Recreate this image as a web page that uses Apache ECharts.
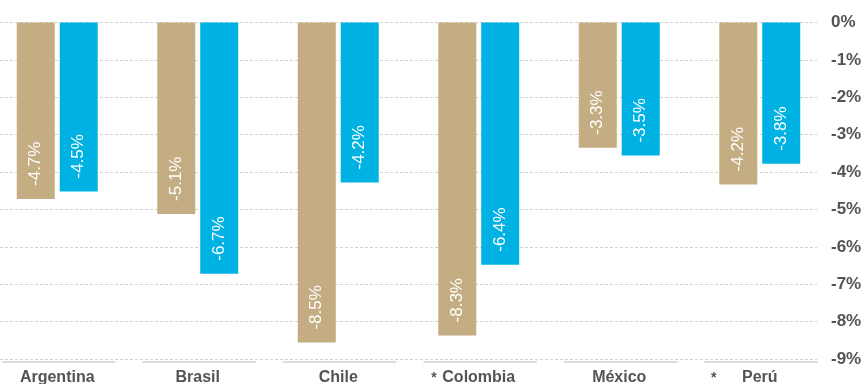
<!DOCTYPE html>
<html>
<head>
<meta charset="utf-8">
<script src="https://cdn.jsdelivr.net/npm/echarts@6/dist/echarts.min.js"></script>
<style>
  html, body { margin: 0; padding: 0; background: #fff; }
  #chart { width: 864px; height: 384px; }
</style>
</head>
<body>
<div id="chart"></div>
<script>
// ---- data ----
const categories = ['Argentina', 'Brasil', 'Chile', 'Colombia', 'México', 'Perú'];
const notes = ['', '', '', '*', '', '*'];
const valuesTan = [-4.72, -5.12, -8.56, -8.37, -3.35, -4.33];
const valuesBlue = [-4.52, -6.72, -4.28, -6.48, -3.56, -3.78];
const labelsTan = ['-4.7%', '-5.1%', '-8.5%', '-8.3%', '-3.3%', '-4.2%'];
const labelsBlue = ['-4.5%', '-6.7%', '-4.2%', '-6.4%', '-3.5%', '-3.8%'];
const yMin = -9, yMax = 0, yStep = 1;

// ---- style ----
const TAN = '#C4AD83';
const BLUE = '#00B2E3';
const TXT = '#535456';
const FONT = '"Liberation Sans", Arial, sans-serif';

const chart = echarts.init(document.getElementById('chart'), null, { renderer: 'canvas' });

function barLabel(arr) {
  return {
    show: true,
    position: 'insideBottom',
    distance: 13,
    rotate: 90,
    align: 'left',
    verticalAlign: 'middle',
    color: '#fff',
    fontFamily: FONT,
    fontSize: 17,
    formatter: p => arr[p.dataIndex]
  };
}

const option = {
  animation: false,
  backgroundColor: '#fff',
  grid: [
    { left: -13, right: 34, top: 22.5, bottom: 25, containLabel: false, outerBoundsMode: 'none' },
    { left: 0, right: 47, top: 22.5, bottom: 25, containLabel: false, outerBoundsMode: 'none' }
  ],
  xAxis: [
    {
      type: 'category',
      gridIndex: 0,
      data: categories,
      position: 'bottom',
      offset: 3,
      axisLine: {
        show: true,
        onZero: false,
        lineStyle: { color: '#cfcfcf', width: 1.5, type: [112.3, 28.2], dashOffset: 125 }
      },
      axisTick: { show: false },
      splitLine: { show: false },
      axisLabel: {
        interval: 0,
        hideOverlap: false,
        margin: 8,
        color: TXT,
        fontFamily: FONT,
        fontSize: 16,
        fontWeight: 'bold',
        formatter: (v, i) => {
          const n = notes[i];
          if (!n) return v;
          const key = v === 'Perú' ? 'wide' : 'narrow';
          return '{' + key + '|' + n + '}' + v + '{' + key + 'Post|}';
        },
        rich: {
          narrow: { width: 11, align: 'left', color: TXT, fontFamily: FONT, fontSize: 14, fontWeight: 'bold' },
          narrowPost: { width: 11 },
          wide: { width: 31, align: 'left', color: TXT, fontFamily: FONT, fontSize: 14, fontWeight: 'bold' },
          widePost: { width: 31 }
        }
      }
    },
    {
      type: 'category',
      gridIndex: 1,
      data: categories,
      show: false
    }
  ],
  yAxis: [
    {
      type: 'value',
      gridIndex: 0,
      min: yMin, max: yMax, interval: yStep,
      show: false
    },
    {
      type: 'value',
      gridIndex: 1,
      min: yMin, max: yMax, interval: yStep,
      position: 'right',
      axisLine: { show: false },
      axisTick: { show: false },
      splitLine: { show: true, lineStyle: { color: '#d2d2d2', width: 1, type: [3, 2] } },
      axisLabel: {
        margin: 14,
        color: TXT,
        fontFamily: FONT,
        fontSize: 17,
        fontWeight: 'bold',
        formatter: v => v + '%'
      }
    }
  ],
  series: [
    {
      name: 'A',
      type: 'bar',
      xAxisIndex: 0, yAxisIndex: 0,
      data: valuesTan,
      barWidth: 38,
      barGap: '13%',
      itemStyle: { color: TAN },
      label: barLabel(labelsTan)
    },
    {
      name: 'B',
      type: 'bar',
      xAxisIndex: 0, yAxisIndex: 0,
      data: valuesBlue,
      barWidth: 38,
      barGap: '13%',
      itemStyle: { color: BLUE },
      label: barLabel(labelsBlue)
    }
  ]
};

chart.setOption(option);
</script>
</body>
</html>
